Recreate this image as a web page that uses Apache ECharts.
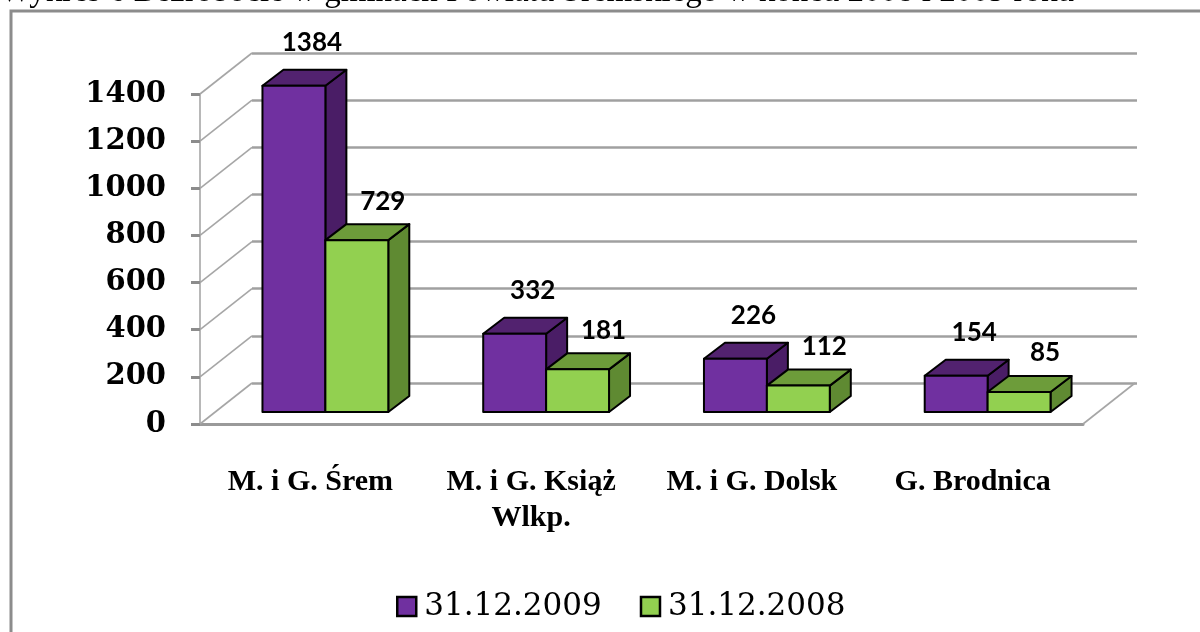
<!DOCTYPE html>
<html>
<head>
<meta charset="utf-8">
<title>Bezrobocie w gminach Powiatu Śremskiego</title>
<script src="https://cdn.jsdelivr.net/npm/echarts@6/dist/echarts.min.js"></script>
<style>
  html, body { margin: 0; padding: 0; background: #fff; }
  #chart { width: 1200px; height: 632px; }
</style>
</head>
<body>
<div id="chart"></div>
<script>
// dane z wykresu
var categories = ['M. i G. Śrem', 'M. i G. Książ\nWlkp.', 'M. i G. Dolsk', 'G. Brodnica'];
var values2009 = [1384, 332, 226, 154];
var values2008 = [729, 181, 112, 85];
var yTicks = [0, 200, 400, 600, 800, 1000, 1200, 1400];
var seriesNames = ['31.12.2009', '31.12.2008'];

// "glebokosc" sceny 3D (tylna sciana przesunieta wzgledem przedniej)
var WALL_DX = 52, WALL_DY = -41;
// slupki stoja w srodku glebokosci
var FRONT_DX = 15, FRONT_DY = -12;
var BAR_DX = 21, BAR_DY = -16;

var chart = echarts.init(document.getElementById('chart'));

function pairs(arr) {
  return arr.map(function (v, i) { return [i, v]; });
}

// rysowanie slupka 3D: przod, gora, bok + etykieta
function bar3d(left, colors, ldx, ldy) {
  return function (params, api) {
    var cat = api.value(0), val = api.value(1);
    var base = api.coord([cat, 0]);
    var top = api.coord([cat, val]);
    var band = api.size([1, 0])[0];
    var w = band * 0.285;
    var x0 = base[0] + (left ? -w : 0) + FRONT_DX;
    var x1 = x0 + w;
    var yb = base[1] + FRONT_DY;
    var yt = top[1] + FRONT_DY;
    var stroke = { stroke: '#000', lineWidth: 2, lineJoin: 'round' };
    return {
      type: 'group',
      children: [
        { type: 'polygon', shape: { points: [[x1, yt], [x1 + BAR_DX, yt + BAR_DY], [x1 + BAR_DX, yb + BAR_DY], [x1, yb]] },
          style: Object.assign({ fill: colors[2] }, stroke) },
        { type: 'polygon', shape: { points: [[x0, yt], [x1, yt], [x1 + BAR_DX, yt + BAR_DY], [x0 + BAR_DX, yt + BAR_DY]] },
          style: Object.assign({ fill: colors[1] }, stroke) },
        { type: 'rect', shape: { x: x0, y: yt, width: w, height: yb - yt },
          style: Object.assign({ fill: colors[0] }, stroke) },
        { type: 'text', z2: 10, x: x0 + w / 2 + ldx, y: yt + ldy,
          style: { text: String(val), fill: '#000', font: 'bold 26px Lato, "Open Sans", sans-serif',
                   align: 'center', verticalAlign: 'middle' } }
      ]
    };
  };
}

// ukosne linie lewej sciany i podlogi
function wallLines(params, api) {
  var y = api.coord([0, api.value(1)])[1];
  var cs = params.coordSys;
  var st = { stroke: '#a6a6a6', lineWidth: 1.6 };
  var children = [
    { type: 'line', shape: { x1: cs.x, y1: y, x2: cs.x + WALL_DX, y2: y + WALL_DY }, style: st }
  ];
  if (api.value(1) === 0) {
    children.push({ type: 'line', shape: { x1: cs.x + cs.width, y1: y, x2: cs.x + cs.width + WALL_DX, y2: y + WALL_DY }, style: st });
  }
  return { type: 'group', children: children };
}

var option = {
  animation: false,
  backgroundColor: '#fff',
  color: ['#7030A0', '#92D050'],
  graphic: [
    { type: 'text', left: 0, top: -24,
      style: { text: 'Wykres 6 Bezrobocie w gminach Powiatu Śremskiego w końcu 2008 i 2009 roku',
               fill: '#000', font: '33px "Liberation Serif", "DejaVu Serif", serif' } },
    { type: 'rect', shape: { x: 11, y: 11, width: 1400, height: 800 },
      style: { fill: 'none', stroke: '#8c8c8c', lineWidth: 3 } }
  ],
  legend: {
    data: seriesNames,
    left: 391,
    top: 586,
    icon: 'rect',
    itemWidth: 19,
    itemHeight: 19,
    itemGap: 38,
    itemStyle: { borderColor: '#000', borderWidth: 2.5 },
    textStyle: { fontFamily: '"DejaVu Serif", serif', fontSize: 31, color: '#000', padding: [0, 0, 0, 3] }
  },
  grid: [
    { left: 200, top: 94, width: 883, height: 330 },
    { left: 200 + WALL_DX, top: 94 + WALL_DY, width: 885, height: 330 }
  ],
  xAxis: [
    {
      type: 'category', gridIndex: 0, data: categories,
      axisLine: { lineStyle: { color: '#9a9a9a', width: 3 } },
      axisTick: { length: 8, lineStyle: { color: '#9a9a9a', width: 2 } },
      axisLabel: { interval: 0, margin: 40, color: '#000', fontFamily: '"Liberation Serif", serif', fontWeight: 'bold',
                   fontSize: 30, lineHeight: 36 }
    },
    { type: 'category', gridIndex: 1, data: categories, show: false }
  ],
  yAxis: [
    {
      type: 'value', gridIndex: 0, min: 0, max: 1400, interval: 200,
      axisLine: { show: true, lineStyle: { color: '#b8b8b8', width: 2 } },
      axisTick: { show: true, length: 9, lineStyle: { color: '#8c8c8c', width: 3 } },
      splitLine: { show: false },
      axisLabel: { margin: 34, color: '#000', fontFamily: '"DejaVu Serif", serif', fontWeight: 'bold', fontSize: 29,
                   formatter: function (v) { return String(v); } }
    },
    {
      type: 'value', gridIndex: 1, min: 0, max: 1400, interval: 200,
      axisLine: { show: false }, axisTick: { show: false }, axisLabel: { show: false },
      splitLine: { show: true, lineStyle: { color: '#a0a0a0', width: 2.5 } }
    }
  ],
  series: [
    {
      type: 'custom', name: 'wall', xAxisIndex: 0, yAxisIndex: 0,
      renderItem: wallLines, data: yTicks.map(function (v) { return [0, v]; }), silent: true
    },
    {
      type: 'custom', name: seriesNames[0], xAxisIndex: 0, yAxisIndex: 0,
      itemStyle: { color: '#7030A0' },
      renderItem: bar3d(true, ['#7030A0', '#52226f', '#4a1d66'], 18, -43),
      data: pairs(values2009)
    },
    {
      type: 'custom', name: seriesNames[1], xAxisIndex: 0, yAxisIndex: 0,
      itemStyle: { color: '#92D050' },
      renderItem: bar3d(false, ['#92D050', '#6d9c3a', '#5f8a32'], 26, -39),
      data: pairs(values2008)
    }
  ]
};

chart.setOption(option);
</script>
</body>
</html>
